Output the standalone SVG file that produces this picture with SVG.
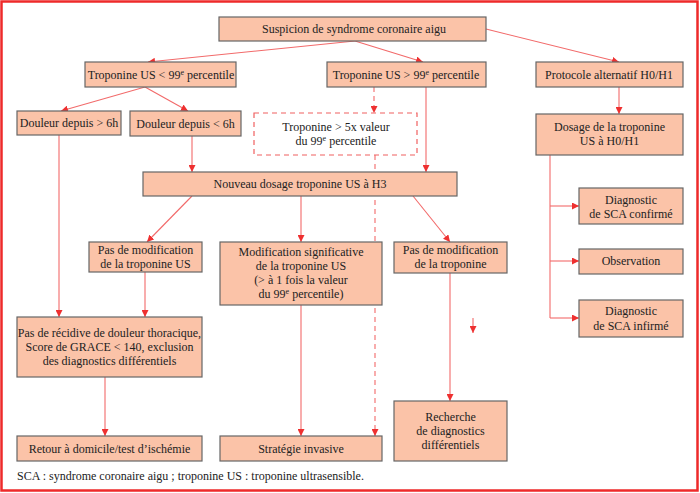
<svg xmlns="http://www.w3.org/2000/svg" width="700" height="493" viewBox="0 0 700 493" font-family="'Liberation Serif', 'Times New Roman', serif">
<style>
.b{fill:#FBC3A8;stroke:#666;stroke-width:1.2}
.d{fill:#fff;stroke:#F06060;stroke-width:1.2;stroke-dasharray:5,4}
text{font-family:'Liberation Serif','Times New Roman',serif;font-size:12px;fill:#222;text-anchor:middle}
.c{stroke:#F26A6A;stroke-width:1.1;fill:none}
.cd{stroke:#F26A6A;stroke-width:1.1;fill:none;stroke-dasharray:5,4}
.ca{marker-end:url(#ah)}
.sup{font-size:8px}
</style>
<defs>
<marker id="ah" viewBox="0 0 10 10" refX="10" refY="5" markerWidth="7" markerHeight="7" markerUnits="userSpaceOnUse" orient="auto">
<path d="M0,0 L10,5 L0,10 z" fill="#EE3030"/>
</marker>
</defs>
<rect x="0" y="0" width="700" height="493" fill="#fff"/>
<rect x="1.5" y="1.5" width="696" height="489" fill="none" stroke="#EE2A2A" stroke-width="2.5"/>

<g id="connectors">
<line class="c ca" x1="355" y1="41" x2="148" y2="62"/>
<line class="c ca" x1="355" y1="41" x2="423" y2="62"/>
<line class="c ca" x1="486" y1="29" x2="619" y2="62"/>
<line class="c ca" x1="145" y1="87" x2="61" y2="111"/>
<line class="c ca" x1="145" y1="87" x2="188" y2="111"/>
<line class="cd ca" x1="374" y1="87" x2="374" y2="113"/>
<line class="c ca" x1="426" y1="87" x2="426" y2="172"/>
<line class="c ca" x1="619" y1="87" x2="619" y2="114"/>
<line class="c ca" x1="59" y1="135" x2="59" y2="317"/>
<line class="c ca" x1="192" y1="136" x2="192" y2="172"/>
<line class="cd ca" x1="375" y1="155" x2="375" y2="436"/>
<line class="c ca" x1="192" y1="196" x2="147" y2="242"/>
<line class="c ca" x1="301" y1="196" x2="301" y2="242"/>
<line class="c ca" x1="413" y1="196" x2="450" y2="242"/>
<line class="c ca" x1="145" y1="272" x2="145" y2="317"/>
<line class="c ca" x1="105" y1="377" x2="105" y2="436"/>
<line class="c ca" x1="301" y1="305" x2="301" y2="436"/>
<line class="c ca" x1="450" y1="273" x2="450" y2="401"/>
<line class="c ca" x1="473" y1="318" x2="473" y2="333"/>
<polyline class="c" points="550,155 550,318"/>
<line class="c ca" x1="550" y1="206" x2="579" y2="206"/>
<line class="c ca" x1="550" y1="261" x2="579" y2="261"/>
<line class="c ca" x1="550" y1="318" x2="579" y2="318"/>
</g>

<g id="n1"><rect class="b" x="219" y="17" width="267" height="24"/><text x="354" y="33">Suspicion de syndrome coronaire aigu</text></g>
<g id="n2"><rect class="b" x="85" y="62" width="151" height="25"/><text x="161" y="78.5">Troponine US &lt; 99<tspan class="sup" dy="-4">e</tspan><tspan dy="4"> percentile</tspan></text></g>
<g id="n3"><rect class="b" x="327" y="62" width="159" height="25"/><text x="406" y="78.5">Troponine US &gt; 99<tspan class="sup" dy="-4">e</tspan><tspan dy="4"> percentile</tspan></text></g>
<g id="n4"><rect class="b" x="536" y="62" width="147" height="25"/><text x="609" y="78.5">Protocole alternatif H0/H1</text></g>
<g id="n5"><rect class="b" x="17" y="111" width="104" height="24"/><text x="69" y="127">Douleur depuis &gt; 6h</text></g>
<g id="n6"><rect class="b" x="130" y="111" width="111" height="25"/><text x="185.5" y="127.5">Douleur depuis &lt; 6h</text></g>
<g id="n7"><rect class="d" x="254" y="113" width="163" height="42"/><text x="336" y="131">Troponine &gt; 5x valeur</text><text x="336" y="145">du 99<tspan class="sup" dy="-4">e</tspan><tspan dy="4"> percentile</tspan></text></g>
<g id="n8"><rect class="b" x="536" y="114" width="147" height="41"/><text x="609.5" y="131">Dosage de la troponine</text><text x="609.5" y="145">US à H0/H1</text></g>
<g id="n9"><rect class="b" x="143" y="172" width="314" height="24"/><text x="300" y="188">Nouveau dosage troponine US à H3</text></g>
<g id="n10"><rect class="b" x="579" y="188" width="104" height="36"/><text x="631" y="204">Diagnostic</text><text x="631" y="218">de SCA confirmé</text></g>
<g id="n11"><rect class="b" x="89" y="242" width="113" height="30"/><text x="145.5" y="254">Pas de modification</text><text x="145.5" y="268">de la troponine US</text></g>
<g id="n12"><rect class="b" x="220" y="242" width="162" height="63"/><text x="301" y="256">Modification significative</text><text x="301" y="270">de la troponine US</text><text x="301" y="284">(&gt; à 1 fois la valeur</text><text x="301" y="298">du 99<tspan class="sup" dy="-4">e</tspan><tspan dy="4"> percentile)</tspan></text></g>
<g id="n13"><rect class="b" x="394" y="242" width="113" height="31"/><text x="450.5" y="254">Pas de modification</text><text x="450.5" y="268">de la troponine</text></g>
<g id="n14"><rect class="b" x="579" y="249" width="104" height="25"/><text x="631" y="265">Observation</text></g>
<g id="n15"><rect class="b" x="579" y="300" width="104" height="37"/><text x="631" y="315">Diagnostic</text><text x="631" y="329.5">de SCA infirmé</text></g>
<g id="n16"><rect class="b" x="17" y="317" width="185" height="60"/><text x="109.5" y="337">Pas de récidive de douleur thoracique,</text><text x="109.5" y="351">Score de GRACE &lt; 140, exclusion</text><text x="109.5" y="365">des diagnostics différentiels</text></g>
<g id="n17"><rect class="b" x="394" y="401" width="113" height="60"/><text x="450.5" y="421">Recherche</text><text x="450.5" y="435">de diagnostics</text><text x="450.5" y="449">différentiels</text></g>
<g id="n18"><rect class="b" x="17" y="436" width="185" height="25"/><text x="109.5" y="452.5">Retour à domicile/test d’ischémie</text></g>
<g id="n19"><rect class="b" x="220" y="436" width="162" height="25"/><text x="301" y="452.5">Stratégie invasive</text></g>
<text x="17" y="480" style="text-anchor:start">SCA : syndrome coronaire aigu ; troponine US : troponine ultrasensible.</text>
</svg>
